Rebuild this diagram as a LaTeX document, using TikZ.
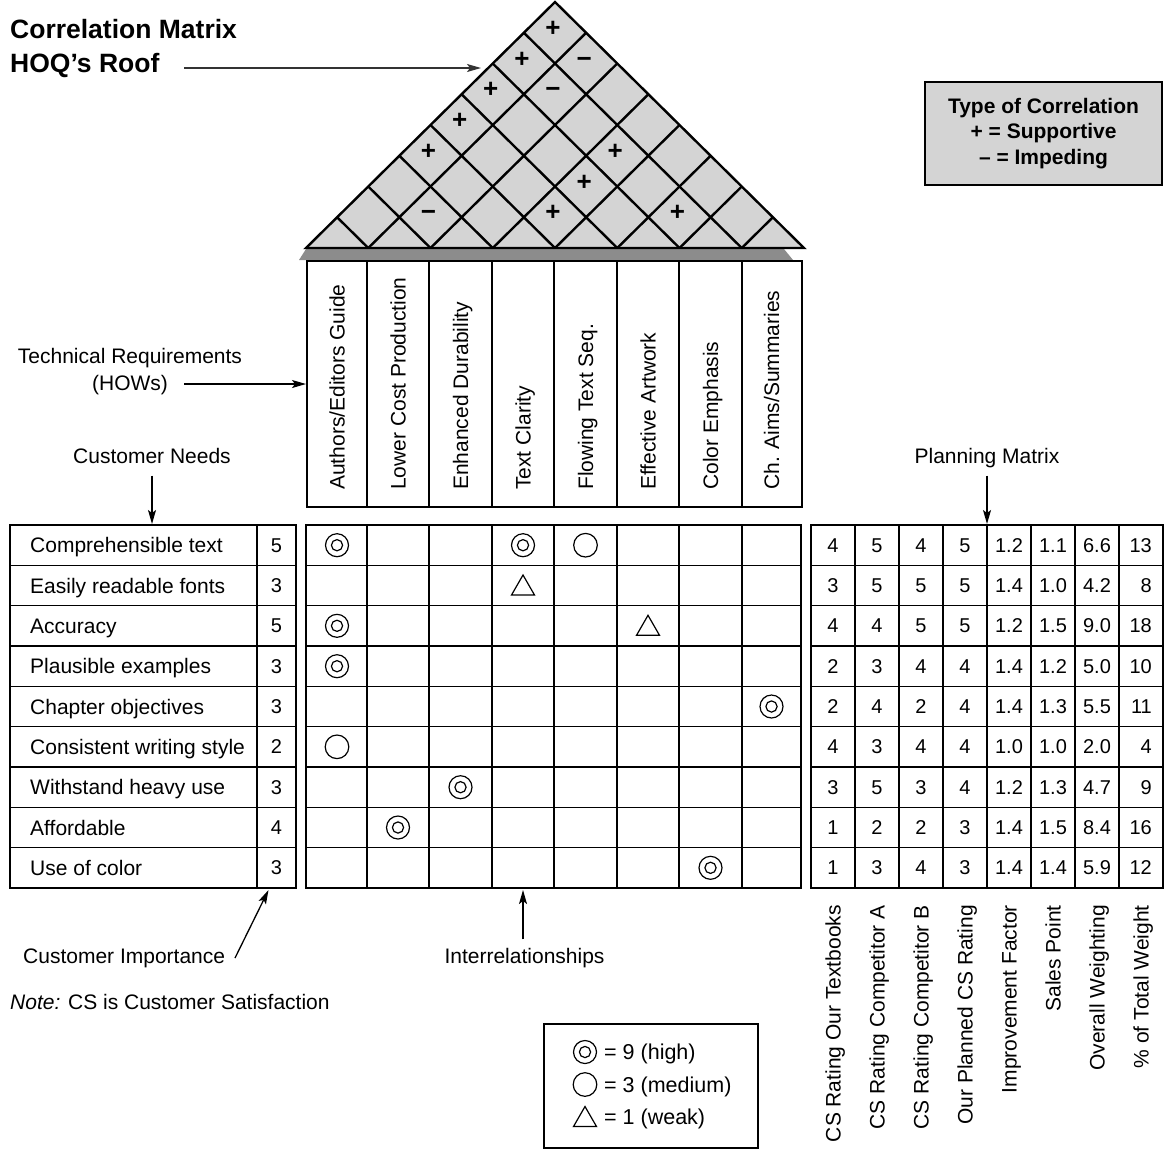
\documentclass[tikz,border=0pt]{standalone}
\usepackage{fontspec}
\setmainfont{Liberation Sans}
\usetikzlibrary{arrows.meta}
\definecolor{roofgray}{HTML}{D4D4D4}
\definecolor{shadowgray}{HTML}{8C8C8C}
\begin{document}
\begin{tikzpicture}[x=1pt,y=-1pt,
  txt/.style={font=\fontsize{21}{25}\selectfont, inner sep=0pt, text height=15pt, text depth=0pt},
  num/.style={font=\fontsize{20}{24}\selectfont, inner sep=0pt, text height=14.3pt, text depth=0pt},
  gridline/.style={line width=1.6pt},
  rline/.style={line width=2.4pt, line join=miter},
  symline/.style={line width=1.2pt},
  arr/.style={line width=1.3pt, -{Stealth[length=14pt,width=8pt,inset=3pt]}},
  sign/.style={font=\bfseries\fontsize{26}{26}\selectfont, inner sep=0pt, text height=0.7em, text depth=0pt},
  sym9/.pic={\draw[symline] (0,0) circle[radius=11.5pt]; \draw[symline] (0,0) circle[radius=5.6pt];},
  sym3/.pic={\draw[symline] (0,0) circle[radius=11.8pt];},
  sym1/.pic={\draw[symline, line join=miter] (-11.5,9.5) -- (11.5,9.5) -- (0,-10.5) -- cycle;}
]
\useasboundingbox (0,0) rectangle (1166,1149);

% ---------- roof ----------
\fill[shadowgray] (299,260) -- (306,249) -- (784,249) -- (793,260) -- cycle;
\filldraw[fill=roofgray, rline] (306,248) -- (555,2) -- (804,248) -- cycle;
\foreach \k in {1,...,7} {
  \draw[rline] ({306+62.25*\k},248) -- ({306+31.125*(8+\k)},{248-30.75*(8-\k)});
  \draw[rline] ({306+62.25*\k},248) -- ({306+31.125*\k},{248-30.75*\k});
}
\foreach \i/\j/\s in {1/8/+,2/8/−,1/7/+,1/6/+,2/7/−,1/5/+,1/4/+,4/7/+,4/6/+,2/3/−,4/5/+,6/7/+}
  \node[sign] (sg\i\j) at ({306+31.125*(\j-1+\i)-2},{248-30.75*(\j-\i)}) {\s};

% ---------- header (HOWs) ----------
\draw[gridline] (307,261) rectangle (802,507);
\foreach \x in {367,429,492,554,617,679,742} \draw[gridline] (\x,261) -- (\x,507);
\node[txt, rotate=90, anchor=west] (h1) at (337,490) {Authors/Editors Guide};
\node[txt, rotate=90, anchor=west] (h2) at (398,490) {Lower Cost Production};
\node[txt, rotate=90, anchor=west] (h3) at (460.5,490) {Enhanced Durability};
\node[txt, rotate=90, anchor=west] (h4) at (523,490) {Text Clarity};
\node[txt, rotate=90, anchor=west] (h5) at (585.5,490) {Flowing Text Seq.};
\node[txt, rotate=90, anchor=west] (h6) at (648,490) {Effective Artwork};
\node[txt, rotate=90, anchor=west] (h7) at (710.5,490) {Color Emphasis};
\node[txt, rotate=90, anchor=west] (h8) at (771.5,490) {Ch. Aims/Summaries};

% ---------- tables ----------
\draw[gridline] (10,525) rectangle (296,888);
\draw[gridline] (257,525) -- (257,888);
\draw[gridline] (306,525) rectangle (801,888);
\foreach \x in {367,429,492,554,617,679,742} \draw[gridline] (\x,525) -- (\x,888);
\draw[gridline] (811,525) rectangle (1163,888);
\foreach \x in {855,899,943,987,1031,1075,1119} \draw[gridline] (\x,525) -- (\x,888);
\foreach \i in {1,...,8} {
  \draw[gridline] (10,{525+40.333*\i}) -- (296,{525+40.333*\i});
  \draw[gridline] (306,{525+40.333*\i}) -- (801,{525+40.333*\i});
  \draw[gridline] (811,{525+40.333*\i}) -- (1163,{525+40.333*\i});
}

\foreach \t/\n [count=\i] in {Comprehensible text/5, Easily readable fonts/3, Accuracy/5,
  Plausible examples/3, Chapter objectives/3, Consistent writing style/2,
  Withstand heavy use/3, Affordable/4, Use of color/3} {
  \node[txt, anchor=west] (cn\i) at (30,{525+40.333*(\i-0.5)}) {\t};
  \node[num] (ci\i) at (276.5,{525+40.333*(\i-0.5)}) {\n};
}

\foreach \a/\b/\c/\d/\e/\f/\g/\h [count=\i] in {
  4/5/4/5/1.2/1.1/6.6/13, 3/5/5/5/1.4/1.0/4.2/8, 4/4/5/5/1.2/1.5/9.0/18,
  2/3/4/4/1.4/1.2/5.0/10, 2/4/2/4/1.4/1.3/5.5/11, 4/3/4/4/1.0/1.0/2.0/4,
  3/5/3/4/1.2/1.3/4.7/9, 1/2/2/3/1.4/1.5/8.4/16, 1/3/4/3/1.4/1.4/5.9/12} {
  \pgfmathsetmacro\yy{525+40.333*(\i-0.5)}
  \node[num] (pa\i) at (833,\yy) {\a};
  \node[num] (pb\i) at (877,\yy) {\b};
  \node[num] (pc\i) at (921,\yy) {\c};
  \node[num] (pd\i) at (965,\yy) {\d};
  \node[num] (pe\i) at (1009,\yy) {\e};
  \node[num] (pf\i) at (1053,\yy) {\f};
  \node[num] (pg\i) at (1097,\yy) {\g};
  \node[num, anchor=east] (ph\i) at (1152,\yy) {\h};
}

% ---------- relationship symbols ----------
\pic at (337,545.2) {sym9};
\pic at (523,545.2) {sym9};
\pic at (585.5,545.2) {sym3};
\pic at (523,585.5) {sym1};
\pic at (337,625.8) {sym9};
\pic at (648,625.8) {sym1};
\pic at (337,666.2) {sym9};
\pic at (771.5,706.5) {sym9};
\pic at (337,746.8) {sym3};
\pic at (460.5,787.2) {sym9};
\pic at (398,827.5) {sym9};
\pic at (710.5,867.8) {sym9};

% ---------- planning column labels ----------
\node[txt, rotate=90, anchor=east] (b1) at (833,905) {CS Rating Our Textbooks};
\node[txt, rotate=90, anchor=east] (b2) at (877,905) {CS Rating Competitor A};
\node[txt, rotate=90, anchor=east] (b3) at (921,905) {CS Rating Competitor B};
\node[txt, rotate=90, anchor=east] (b4) at (965,905) {Our Planned CS Rating};
\node[txt, rotate=90, anchor=east] (b5) at (1009,905) {Improvement Factor};
\node[txt, rotate=90, anchor=east] (b6) at (1053,905) {Sales Point};
\node[txt, rotate=90, anchor=east] (b7) at (1097,905) {Overall Weighting};
\node[txt, rotate=90, anchor=east] (b8) at (1141,905) {\% of Total Weight};

% ---------- titles and callouts ----------
\node[font=\bfseries\fontsize{26.5}{30}\selectfont, inner sep=0pt, anchor=base west] (title1) at (10,38.5) {Correlation Matrix};
\node[font=\bfseries\fontsize{26.5}{30}\selectfont, inner sep=0pt, anchor=base west] (title2) at (10,72.5) {HOQ’s Roof};
\coordinate (roofstart) at (184,68);
\coordinate (rooftip) at (481,68);
\draw[arr, draw=black!80, fill=black!80] (roofstart) -- (rooftip);

\node[draw, fill=roofgray, line width=2pt, minimum width=237pt, minimum height=103pt, inner sep=0pt,
  align=center, font=\bfseries\fontsize{21}{25.8}\selectfont] (corrtype) at (1043.5,133.5)
  {Type of Correlation\\+ = Supportive\\– = Impeding};

\node[font=\fontsize{21}{27}\selectfont, align=center, inner sep=0pt] (tech) at (130,372) {Technical Requirements\\(HOWs)};
\coordinate (techstart) at (184,384);
\coordinate (techtip) at (306,384);
\draw[arr] (techstart) -- (techtip);

\node[txt] (needs) at (152,456) {Customer Needs};
\coordinate (needstip) at (152,524);
\draw[arr] (needs.south) ++(0,12) -- (needstip);

\node[txt] (plan) at (987,456) {Planning Matrix};
\coordinate (plantip) at (987,524);
\draw[arr] (plan.south) ++(0,12) -- (plantip);

\node[txt, anchor=west] (imp) at (23,956) {Customer Importance};
\coordinate (impstart) at (235,958);
\coordinate (imptip) at (268.5,890);
\draw[arr] (impstart) -- (imptip);

\node[txt] (inter) at (524.5,956) {Interrelationships};
\coordinate (intertip) at (523,890);
\draw[arr] (inter.north) ++(-1.5,-9) -- (intertip);

\node[txt, anchor=west] (note) at (10,1002) {{\itshape Note:} CS is Customer Satisfaction};

% ---------- symbol legend ----------
\draw[line width=1.4pt] (544,1024) rectangle (758,1148);
\pic at (585,1052) {sym9};
\pic at (585,1084.5) {sym3};
\pic at (585,1117) {sym1};
\node[txt, font=\fontsize{21.5}{25}\selectfont, anchor=west] (l9) at (604,1052) {= 9 (high)};
\node[txt, font=\fontsize{21.5}{25}\selectfont, anchor=west] (l3) at (604,1084.5) {= 3 (medium)};
\node[txt, font=\fontsize{21.5}{25}\selectfont, anchor=west] (l1) at (604,1117) {= 1 (weak)};
\end{tikzpicture}
\end{document}
